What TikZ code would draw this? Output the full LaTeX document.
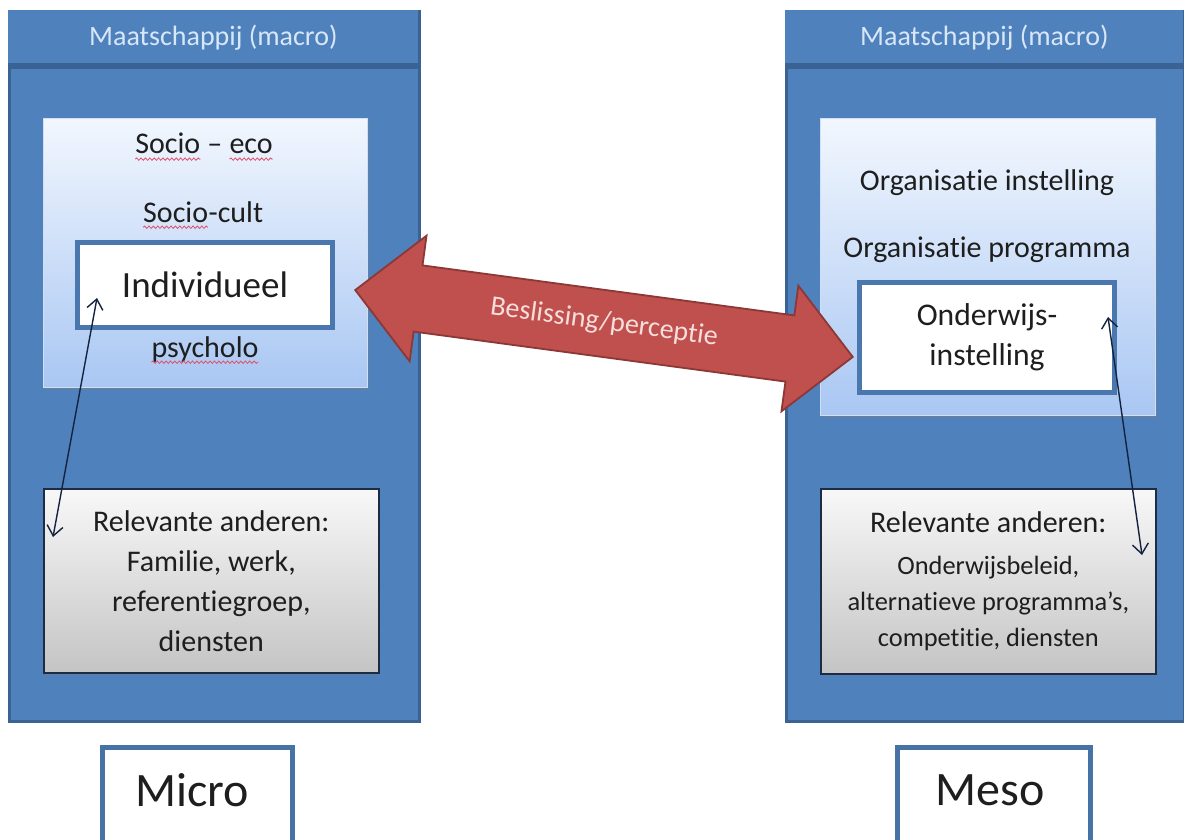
\documentclass[tikz,border=0pt]{standalone}
\usepackage{fontspec}
\setmainfont{Carlito}[Ligatures=NoCommon]
\usetikzlibrary{shapes.arrows,shadows,decorations.pathmorphing,arrows.meta}

\definecolor{panelblue}{HTML}{4F81BD}
\definecolor{paneledge}{HTML}{3A6393}
\definecolor{headtext}{HTML}{D8E7F8}
\definecolor{innertop}{HTML}{F2F7FE}
\definecolor{innerbot}{HTML}{A9C7F3}
\definecolor{greytop}{HTML}{F8F8F8}
\definecolor{greybot}{HTML}{C4C4C4}
\definecolor{greyedge}{HTML}{1D2B45}
\definecolor{arrowred}{HTML}{C0504D}
\definecolor{arrowedge}{HTML}{8C3836}
\definecolor{arrowtext}{HTML}{F6DEDC}
\definecolor{inktext}{HTML}{1E1E1E}
\definecolor{spellred}{HTML}{E0506A}
\definecolor{linkline}{HTML}{14233F}

\newcommand{\spellmark}[1]{\tikz[baseline=(sw.base)]{\node[inner sep=0pt,outer sep=0pt] (sw) {#1};
  \draw[spellred,line width=0.4pt,decorate,decoration={snake,amplitude=0.6pt,segment length=2.2pt}]
    ([yshift=-2.6pt]sw.base west) -- ([yshift=-2.6pt]sw.base east);}}

\tikzset{
  panel/.style={draw=paneledge,line width=1.3pt,fill=panelblue,anchor=north west,inner sep=0pt},
  panelhead/.style={fill=panelblue,anchor=north west,inner sep=0pt,text=headtext,font=\fontsize{14}{16}\selectfont},
  innerbox/.style={anchor=north west,inner sep=0pt,draw=innertop!80!panelblue,line width=0.4pt,
    top color=innertop,bottom color=innerbot,
    drop shadow={opacity=0.35,shadow xshift=0.8pt,shadow yshift=-1.2pt}},
  corebox/.style={anchor=north west,inner sep=0pt,fill=white,draw=panelblue!92!black,line width=2.5pt,text=inktext},
  greybox/.style={anchor=north west,inner sep=0pt,draw=greyedge,line width=0.8pt,
    top color=greytop,bottom color=greybot,text=inktext,align=center,
    drop shadow={opacity=0.3,shadow xshift=0.8pt,shadow yshift=-1.2pt}},
  leveltag/.style={anchor=north west,inner sep=0pt,fill=white,draw=panelblue!88!black,line width=2.5pt},
  linetext/.style={text=inktext,inner sep=0pt},
  beslis/.style={shape=double arrow,double arrow head extend=15pt,double arrow tip angle=90,
    fill=arrowred,draw=arrowedge,line width=0.9pt,text=arrowtext,inner xsep=4pt,inner ysep=10pt,
    text height=9.5pt,text depth=3pt,font=\fontsize{14}{16}\selectfont},
  link/.style={draw=linkline,line width=0.7pt,{Straight Barb[length=5pt,width=8pt]}-{Straight Barb[length=5pt,width=8pt]}}
}

\begin{document}
\begin{tikzpicture}[x=0.5pt,y=-0.5pt]
\clip (0,0) rectangle (1184,840);
\fill[white] (0,0) rectangle (1184,840);

\node[panel,minimum width=205pt,minimum height=355pt] (micropanel) at (8,10) {};
\node[panelhead,minimum width=205pt,minimum height=27.5pt] (microhead) at (8,10) {Maatschappij (macro)};
\draw[paneledge,line width=3pt] (microhead.south west) -- (microhead.south east);

\node[panel,minimum width=199pt,minimum height=355pt] (mesopanel) at (785,10) {};
\node[panelhead,minimum width=199pt,minimum height=27.5pt] (mesohead) at (785,10) {Maatschappij (macro)};
\draw[paneledge,line width=3pt] (mesohead.south west) -- (mesohead.south east);

\node[innerbox,minimum width=162pt,minimum height=134.5pt] (microinner) at (43,118) {};
\node[linetext,font=\fontsize{15}{17}\selectfont] (socioeco) at (204,147) {\spellmark{Socio} -- \spellmark{eco}};
\node[linetext,font=\fontsize{15}{17}\selectfont] (sociocult) at (203,215) {\spellmark{Socio}-cult};
\node[corebox,minimum width=127.5pt,minimum height=42.5pt,text=inktext,font=\fontsize{18.5}{22}\selectfont] (indiv) at (75,240) {Individueel};
\node[linetext,font=\fontsize{15}{17}\selectfont] (psycholo) at (205,350) {\spellmark{psycholo}};

\node[innerbox,minimum width=167.5pt,minimum height=148.5pt] (mesoinner) at (820,118) {};
\node[linetext,font=\fontsize{15}{17}\selectfont] (orginst) at (987,183) {Organisatie instelling};
\node[linetext,font=\fontsize{15}{17}\selectfont] (orgprog) at (987,250) {Organisatie programma};
\node[corebox,minimum width=127.5pt,minimum height=55pt,align=center,font=\fontsize{15.8}{20}\selectfont] (onderwijs) at (857,280) {Onderwijs-\\instelling};

\node[greybox,minimum width=167.5pt,minimum height=92pt,font=\fontsize{15}{20}\selectfont] (microothers) at (43,488)
  {Relevante anderen:\\Familie, werk,\\referentiegroep,\\diensten};
\node[greybox,minimum width=167.5pt,minimum height=92.5pt,font=\fontsize{13.2}{18}\selectfont] (mesoothers) at (820,488)
  {{\fontsize{15}{18}\selectfont Relevante anderen:}\\[3pt]Onderwijsbeleid,\\alternatieve programma's,\\competitie, diensten};

\node[beslis,rotate=-7.66,minimum height=251pt] (beslissing) at (604,323.5) {Beslissing/perceptie};

\coordinate (indivtip) at (97,298);
\coordinate (microotherstip) at (53,537);
\coordinate (onderwijstip) at (1108,317);
\coordinate (mesootherstip) at (1142,555);
\draw[link] (indivtip) -- (microotherstip);
\draw[link] (onderwijstip) -- (mesootherstip);

\node[leveltag,minimum width=95pt,minimum height=60pt] (micro) at (100,745) {};
\node[linetext,font=\fontsize{24}{28}\selectfont] (microlabel) at (192,790) {Micro};
\node[leveltag,minimum width=96.5pt,minimum height=60pt] (meso) at (895,745) {};
\node[linetext,font=\fontsize{24}{28}\selectfont] (mesolabel) at (990,790) {Meso};
\end{tikzpicture}
\end{document}
